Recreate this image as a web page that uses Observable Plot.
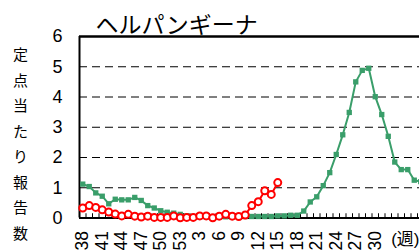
<!DOCTYPE html>
<html><head><meta charset="utf-8">
<script src="https://cdn.jsdelivr.net/npm/d3@7"></script>
<script src="https://cdn.jsdelivr.net/npm/@observablehq/plot@0.6"></script>
<style>html,body{margin:0;padding:0;overflow:hidden;background:#fff}</style>
</head><body><div id="chart"></div>
<script>
const title = "ヘルパンギーナ";
const yLabel = "定点当たり報告数";
const weekUnit = "(週)";
const weeks = [38,39,40,41,42,43,44,45,46,47,48,49,50,51,52,53,
  1,2,3,4,5,6,7,8,9,10,11,12,13,14,15,16,17,18,19,20,21,22,23,24,25,26,27,28,29,30,31,32,33,34,35,36,37];
const prevSeason = [1.12,1.04,0.83,0.72,0.47,0.62,0.60,0.60,0.68,0.58,0.41,0.33,0.24,0.19,0.16,0.12,
  0.07,0.05,0.04,0.04,0.03,0.03,0.04,0.04,0.04,0.05,0.05,0.05,0.05,0.05,0.07,0.07,0.09,0.09,0.23,0.53,
  0.70,1.07,1.50,2.10,2.75,3.49,4.50,4.88,4.95,4.01,3.42,2.70,1.85,1.60,1.60,1.25,1.20];
const currSeason = [0.33,0.41,0.35,0.27,0.20,0.13,0.07,0.12,0.06,0.03,0.06,0.02,0.02,0.02,0.07,0.01,
  0.02,0.02,0.07,0.07,0.01,0.06,0.12,0.06,0.05,0.10,0.41,0.54,0.90,0.78,1.17];
const yTicks = [0,1,2,3,4,5,6];
const gridValues = [1,2,3,4,5];
const labelWeeks = [38,41,44,47,50,53,3,6,9,12,15,18,21,24,27,30];

const green = "#3a9e6a", red = "#ff0000";
const idx = weeks.map((w, i) => i);
const prevData = prevSeason.map((v, i) => ({i, v}));
const currData = currSeason.map((v, i) => ({i, v}));
const labelIdx = labelWeeks.map((w, k) => weeks.indexOf(w, k === 0 ? 0 : weeks.indexOf(labelWeeks[k-1]) + 1));
const boundaries = idx.map(i => i + 0.5);

const chart = Plot.plot({
  width: 419, height: 250,
  marginLeft: 79, marginRight: 0, marginTop: 36, marginBottom: 32.5,
  style: {fontFamily: "'Liberation Sans','Noto Sans CJK JP',sans-serif", background: "#fff", color: "#000"},
  x: {type: "linear", domain: [-0.5, weeks.length - 0.5], range: [79, 79 + weeks.length * 6.5], axis: null},
  y: {domain: [0, 6], range: [217.5, 36], axis: null},
  marks: [
    Plot.ruleY(gridValues, {stroke: "#000", strokeDasharray: "8,5", strokeWidth: 1}),
    Plot.ruleX(boundaries, {y1: 0, y2: 0.14, stroke: "#000", strokeWidth: 1}),
    Plot.ruleY([6], {stroke: "#000", strokeWidth: 2.5}),
    Plot.ruleY([0], {stroke: "#000", strokeWidth: 2}),
    Plot.ruleX([-0.5], {stroke: "#000", strokeWidth: 2}),
    Plot.line(prevData, {x: "i", y: "v", stroke: green, strokeWidth: 2}),
    Plot.dot(prevData, {x: "i", y: "v", symbol: "square", r: 3, fill: green, stroke: "none"}),
    Plot.line(currData, {x: "i", y: "v", stroke: red, strokeWidth: 2}),
    Plot.dot(currData, {x: "i", y: "v", r: 3.5, fill: "#fff", stroke: red, strokeWidth: 2}),
    Plot.axisX(labelIdx, {tickFormat: i => weeks[i], tickRotate: -90, tickSize: 0, tickPadding: 13, fontSize: 17.5, label: null}),
    Plot.axisY(yTicks, {tickSize: 0, tickPadding: 17, fontSize: 18, label: null}),
    Plot.text([title], {frameAnchor: "top-left", textAnchor: "start", lineAnchor: "bottom", dx: 16, dy: -4, fontSize: 23}),
    Plot.text([yLabel.split("").join("\n")], {frameAnchor: "left", textAnchor: "middle", dx: -59, dy: 14, fontSize: 15, lineHeight: 1.7}),
    Plot.text([weekUnit], {frameAnchor: "bottom-right", textAnchor: "end", lineAnchor: "middle", dy: 22, fontSize: 17})
  ]
});
document.getElementById("chart").appendChild(chart);
</script>
</body></html>
